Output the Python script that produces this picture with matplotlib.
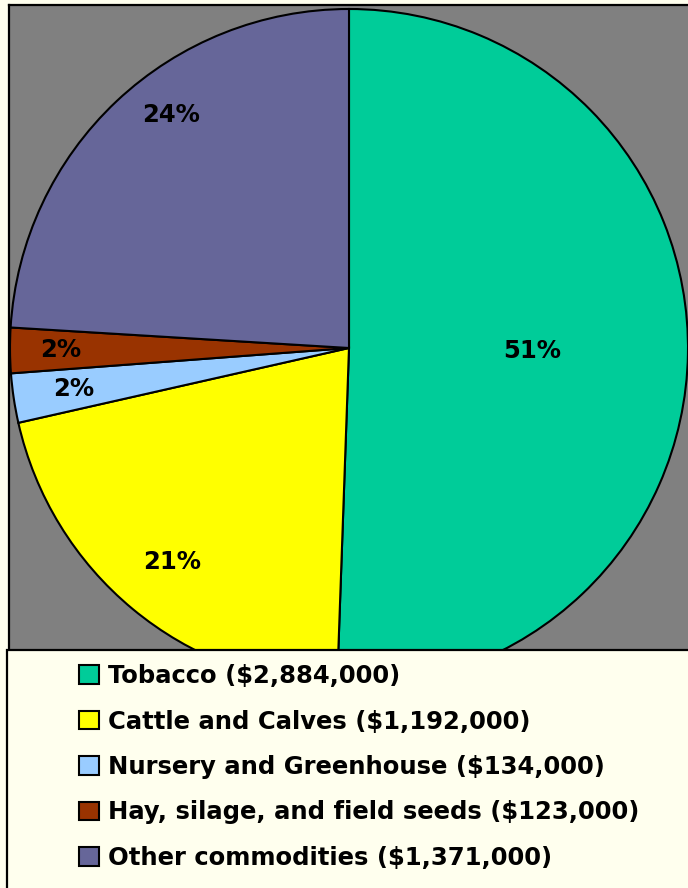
import numpy as np
import matplotlib
matplotlib.use('Agg')
import matplotlib.pyplot as plt
from matplotlib.patches import Rectangle

# farm receipts by commodity
categories = ['Tobacco', 'Cattle and Calves', 'Nursery and Greenhouse',
              'Hay, silage, and field seeds', 'Other commodities']
values = [2884000, 1192000, 134000, 123000, 1371000]
colors = ['#00CC99', '#FFFF00', '#99CCFF', '#993300', '#666699']
label_r = [0.54, 0.82, 0.82, 0.85, 0.865]
label_shift = [0, 0, 0, 0, -6]

W, H = 688, 888
fig = plt.figure(figsize=(W / 100, H / 100), dpi=100, facecolor='#FFFFEE')

def px_box(x0, y0, x1, y1):
    return [x0 / W, 1 - y1 / H, (x1 - x0) / W, (y1 - y0) / H]

ax = fig.add_axes(px_box(9, 5, 690, 660))
ax.set_facecolor('#808080')

total = sum(values)
wedges, _ = ax.pie(values, colors=colors, startangle=90, counterclock=False,
                   center=(349, H - 348), radius=339, frame=True,
                   wedgeprops=dict(edgecolor='black', linewidth=1.5))

for w, v, r, sh in zip(wedges, values, label_r, label_shift):
    ang = np.deg2rad((w.theta1 + w.theta2) / 2 + sh)
    x = w.center[0] + r * w.r * np.cos(ang)
    y = w.center[1] + r * w.r * np.sin(ang)
    ax.text(x, y, '%d%%' % round(v * 100 / total), ha='center', va='center',
            fontsize=17.5, fontweight='bold', color='black')

ax.set_xlim(9, 690)
ax.set_ylim(H - 660, H - 5)
ax.set_xticks([])
ax.set_yticks([])
for s in ax.spines.values():
    s.set_linewidth(1.6)
    s.set_color('black')

# legend box
fig.patches.append(Rectangle((7 / W, -0.01), 1.0, (H - 650) / H + 0.01,
                             transform=fig.transFigure, facecolor='#FFFFEE',
                             edgecolor='black', linewidth=1.6, zorder=5))

labels = ['%s ($%s)' % (c, format(v, ',')) for c, v in zip(categories, values)]
leg = fig.legend(wedges, labels, loc='upper left',
                 bbox_to_anchor=(67 / W, 1 - 652 / H), frameon=False,
                 prop=dict(size=17.5, weight='bold'), handlelength=0.8,
                 handleheight=0.8, handletextpad=0.4, labelspacing=0.88,
                 borderpad=0)
leg.set_zorder(6)

fig.savefig('out.png', dpi=100, facecolor=fig.get_facecolor())
